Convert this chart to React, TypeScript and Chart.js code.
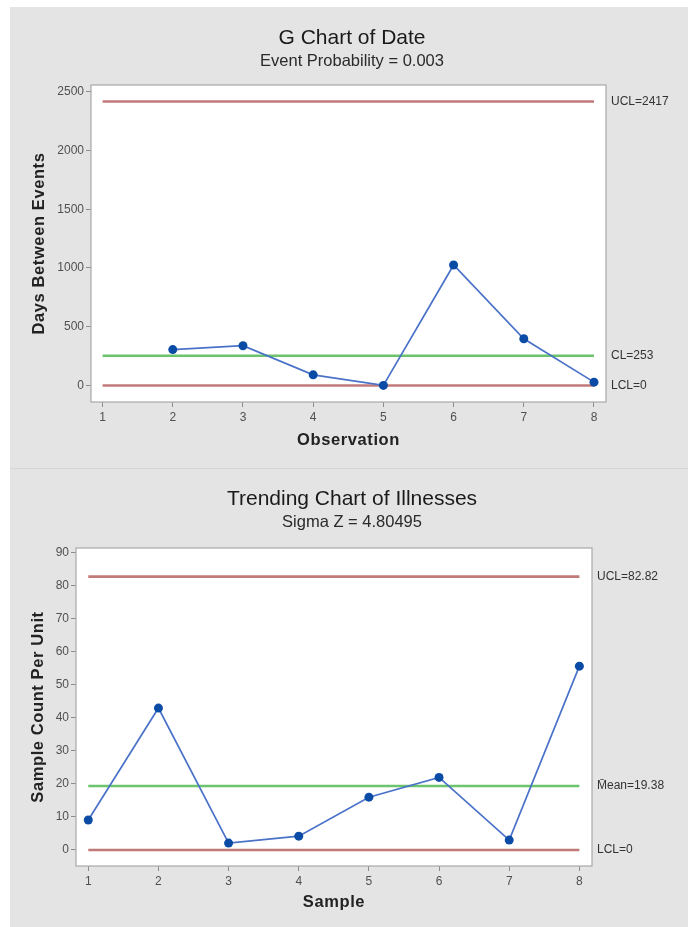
import React, { useEffect, useRef } from "react";
import { Chart, registerables } from "chart.js";

Chart.register(...registerables);

// ---------- Data: G Chart of Date ----------
const gObservations = [1, 2, 3, 4, 5, 6, 7, 8];
const gDaysBetween: (number | null)[] = [null, 305, 338, 90, 0, 1025, 397, 28];
const gLimitValues = [2417, 253, 0];
const gLimitLabels = ["UCL=2417", "CL=253", "LCL=0"];
const gYTicks = [0, 500, 1000, 1500, 2000, 2500];
const gXTicks = [1, 2, 3, 4, 5, 6, 7, 8];

// ---------- Data: Trending Chart of Illnesses ----------
const tSamples = [1, 2, 3, 4, 5, 6, 7, 8];
const tCounts = [9.1, 43, 2.1, 4.2, 16, 22, 3, 55.7];
const tLimitValues = [82.82, 19.38, 0];
const tLimitLabels = ["UCL=82.82", "M\u0304ean=19.38", "LCL=0"];
const tYTicks = [0, 10, 20, 30, 40, 50, 60, 70, 80, 90];
const tXTicks = [1, 2, 3, 4, 5, 6, 7, 8];

const LIMIT_COLORS = ["#c07a78", "#6cc46c", "#c07a78"];
const FONT = "'Liberation Sans', Arial, sans-serif";

const decorPlugin = {
  id: "decor",
  beforeDraw(chart: any) {
    const { ctx, chartArea: a } = chart;
    ctx.save();
    ctx.fillStyle = "#ffffff";
    ctx.fillRect(a.left, a.top, a.right - a.left, a.bottom - a.top);
    ctx.restore();
  },
  beforeDatasetsDraw(chart: any) {
    const { ctx, chartArea: a } = chart;
    ctx.save();
    ctx.strokeStyle = "#a8a8a8";
    ctx.lineWidth = 1.2;
    ctx.strokeRect(a.left, a.top, a.right - a.left, a.bottom - a.top);
    ctx.restore();
  },
  afterDraw(chart: any, _args: any, opts: any) {
    const { ctx, chartArea: a } = chart;
    const yScale = chart.scales.y;
    ctx.save();
    ctx.fillStyle = "#1a1a1a";
    ctx.textAlign = "center";
    ctx.textBaseline = "middle";
    ctx.font = `21px ${FONT}`;
    ctx.fillText(opts.title, opts.titleX, opts.titleY);
    ctx.fillStyle = "#2a2a2a";
    ctx.font = `16.5px ${FONT}`;
    ctx.fillText(opts.subtitle, opts.titleX, opts.subtitleY);
    // axis titles
    ctx.fillStyle = "#222";
    ctx.font = `bold 16.5px ${FONT}`;
    (ctx as any).letterSpacing = "0.6px";
    ctx.fillText(opts.xTitle, (a.left + a.right) / 2, opts.xTitleY);
    ctx.save();
    ctx.translate(opts.yTitleX, (a.top + a.bottom) / 2);
    ctx.rotate(-Math.PI / 2);
    ctx.fillText(opts.yTitle, 0, 0);
    ctx.restore();
    (ctx as any).letterSpacing = "0px";
    // limit labels
    ctx.textAlign = "left";
    ctx.fillStyle = "#333";
    ctx.font = `12px ${FONT}`;
    opts.limitValues.forEach((v: number, i: number) => {
      ctx.fillText(opts.limitLabels[i], a.right + 5, yScale.getPixelForValue(v));
    });
    ctx.restore();
  },
};

function buildConfig(p: any) {
  const datasets: any[] = [
    {
      data: p.xs.map((x: number, i: number) => ({ x, y: p.ys[i] })),
      borderColor: "#4a72c8",
      borderWidth: 1.7,
      pointRadius: 4.5,
      pointBackgroundColor: "#0a4ba6",
      pointBorderColor: "#0a4ba6",
      pointBorderWidth: 0,
      spanGaps: false,
      order: 0,
    },
  ];
  p.limitValues.forEach((v: number, i: number) => {
    datasets.push({
      data: [
        { x: p.xs[0], y: v },
        { x: p.xs[p.xs.length - 1], y: v },
      ],
      borderColor: LIMIT_COLORS[i],
      borderWidth: 2.6,
      pointRadius: 0,
      order: 1,
    });
  });
  const tickFont = { size: 12, family: FONT };
  return {
    type: "line",
    data: { datasets },
    plugins: [decorPlugin],
    options: {
      animation: false,
      responsive: false,
      devicePixelRatio: 1,
      layout: { padding: { top: p.padTop, right: p.padRight, left: 0, bottom: 0 } },
      plugins: {
        legend: { display: false },
        tooltip: { enabled: false },
        decor: {
          title: p.title,
          subtitle: p.subtitle,
          titleX: p.titleX,
          titleY: p.titleY,
          subtitleY: p.subtitleY,
          xTitle: p.xTitle,
          xTitleY: p.xTitleY,
          yTitle: p.yTitle,
          yTitleX: p.yTitleX,
          limitValues: p.limitValues,
          limitLabels: p.limitLabels,
        },
      },
      scales: {
        x: {
          type: "linear",
          min: p.xMin,
          max: p.xMax,
          afterFit: (s: any) => {
            s.height = p.xAxisHeight;
          },
          afterBuildTicks: (s: any) => {
            s.ticks = p.xTicks.map((v: number) => ({ value: v }));
          },
          grid: {
            display: true,
            drawOnChartArea: false,
            drawTicks: true,
            tickLength: 5,
            color: "#8c8c8c",
          },
          border: { display: false },
          ticks: {
            color: "#505050",
            font: tickFont,
            padding: 3,
            maxRotation: 0,
            callback: (v: any) => String(v),
          },
        },
        y: {
          type: "linear",
          min: p.yMin,
          max: p.yMax,
          afterFit: (s: any) => {
            s.width = p.yAxisWidth;
          },
          afterBuildTicks: (s: any) => {
            s.ticks = p.yTicks.map((v: number) => ({ value: v }));
          },
          grid: {
            display: true,
            drawOnChartArea: false,
            drawTicks: true,
            tickLength: 5,
            color: "#8c8c8c",
          },
          border: { display: false },
          ticks: {
            color: "#505050",
            font: tickFont,
            padding: 2,
            callback: (v: any) => String(v),
          },
        },
      },
    },
  };
}

function Panel({ params, width, height }: any) {
  const ref = useRef<HTMLCanvasElement | null>(null);
  useEffect(() => {
    if (!ref.current) return;
    const chart = new Chart(ref.current, buildConfig(params) as any);
    return () => chart.destroy();
  }, []);
  return (
    <div style={{ width, height, background: "#e4e4e4", position: "relative" }}>
      <canvas ref={ref} width={width} height={height} style={{ display: "block" }} />
    </div>
  );
}

const topParams = {
  xs: gObservations,
  ys: gDaysBetween,
  limitValues: gLimitValues,
  limitLabels: gLimitLabels,
  xTicks: gXTicks,
  yTicks: gYTicks,
  xMin: 0.835,
  xMax: 8.171,
  yMin: -141,
  yMax: 2557,
  padTop: 78,
  padRight: 82,
  yAxisWidth: 81,
  xAxisHeight: 66,
  title: "G Chart of Date",
  subtitle: "Event Probability = 0.003",
  titleX: 342,
  titleY: 31,
  subtitleY: 54,
  xTitle: "Observation",
  xTitleY: 433,
  yTitle: "Days Between Events",
  yTitleX: 29,
};

const bottomParams = {
  xs: tSamples,
  ys: tCounts,
  limitValues: tLimitValues,
  limitLabels: tLimitLabels,
  xTicks: tXTicks,
  yTicks: tYTicks,
  xMin: 0.825,
  xMax: 8.18,
  yMin: -4.85,
  yMax: 91.5,
  padTop: 79,
  padRight: 96,
  yAxisWidth: 66,
  xAxisHeight: 61,
  title: "Trending Chart of Illnesses",
  subtitle: "Sigma Z = 4.80495",
  titleX: 342,
  titleY: 30,
  subtitleY: 53,
  xTitle: "Sample",
  xTitleY: 433,
  yTitle: "Sample Count Per Unit",
  yTitleX: 28,
};

export default function App() {
  return (
    <div style={{ position: "absolute", left: 10, top: 7, width: 678 }}>
      <Panel params={topParams} width={678} height={461} />
      <div style={{ height: 1, background: "#d6d6d6" }} />
      <Panel params={bottomParams} width={678} height={458} />
    </div>
  );
}
